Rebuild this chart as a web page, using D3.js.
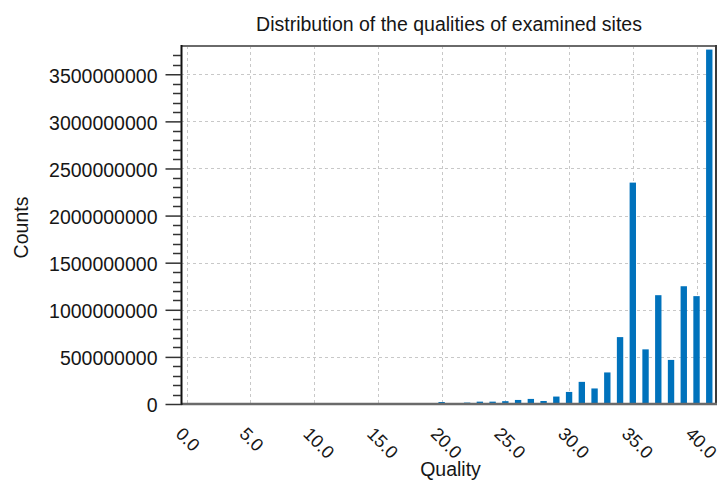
<!DOCTYPE html>
<html><head><meta charset="utf-8">
<script src="https://cdn.jsdelivr.net/npm/d3@7"></script>
<style>body{margin:0;background:#fff}svg{display:block}text{font-family:"Liberation Sans",Arial,sans-serif;fill:#161616}</style>
</head><body><svg id="c" width="720" height="483"></svg>
<script>
const qualities = d3.range(0, 42);
const counts = [0,0,0,0,0,0,0,0,0,0,0,0,0,0,0,0,0,0,0,0,
  21e6,0,15e6,25e6,25e6,30e6,43e6,54e6,32e6,79e6,128e6,
  235e6,165e6,335e6,710e6,2350e6,580e6,1155e6,468e6,1250e6,1145e6,3762e6];
const xTicks = [0,5,10,15,20,25,30,35,40];
const yTicks = [0,5e8,1e9,1.5e9,2e9,2.5e9,3e9,3.5e9];
const title = "Distribution of the qualities of examined sites";
const xLabel = "Quality", yLabel = "Counts";

const FS = 19.5;
const svg = d3.select("#c");
const L=181,R=715,T=46,B=404;
const x = d3.scaleLinear().domain([-0.45,41.45]).range([L,R]);
const y = d3.scaleLinear().domain([0,3.8e9]).range([B,T]);

// grid
const grid = svg.append("g").attr("stroke","#c8c8c8").attr("stroke-dasharray","3,3").attr("stroke-width",1);
grid.selectAll("line.v").data(xTicks).join("line").attr("class","v")
  .attr("x1",d=>Math.round(x(d))+0.5).attr("x2",d=>Math.round(x(d))+0.5).attr("y1",T).attr("y2",B);
grid.selectAll("line.h").data(yTicks.filter(d=>d>0)).join("line").attr("class","h")
  .attr("y1",d=>Math.round(y(d))+0.5).attr("y2",d=>Math.round(y(d))+0.5).attr("x1",L).attr("x2",R);

// bars
const bw = 0.5*(x(1)-x(0));
svg.append("g").selectAll("rect").data(qualities.map((q,i)=>({q,v:counts[i]})).filter(d=>d.v>0)).join("rect")
  .attr("x",d=>x(d.q)-bw/2).attr("width",bw)
  .attr("y",d=>y(d.v)).attr("height",d=>B-y(d.v)).attr("fill","#0072bc");

// frame
svg.append("line").attr("x1",L).attr("x2",R+2).attr("y1",T).attr("y2",T).attr("stroke","#6a6a6a").attr("stroke-width",2);
svg.append("line").attr("x1",R+1).attr("x2",R+1).attr("y1",T-1).attr("y2",B).attr("stroke","#3a3a3a").attr("stroke-width",2);
svg.append("line").attr("x1",L).attr("x2",R+2).attr("y1",B).attr("y2",B).attr("stroke","#6a6a6a").attr("stroke-width",2.5);

// y axis
const yAxis = d3.axisLeft(y).tickValues(yTicks).tickSize(16).tickPadding(8).tickFormat(d3.format("d"));
const ga = svg.append("g").attr("transform",`translate(${L+0.5},0)`).call(yAxis);
ga.select(".domain").attr("stroke","#111").attr("stroke-width",2).attr("d",`M0,${T-1}V${B+1}`);
ga.selectAll(".tick line").attr("stroke","#333").attr("stroke-width",1.5);
ga.selectAll(".tick text").attr("font-size",FS).attr("dy","0.4em").attr("fill","#161616")
  .style("font-family","'Liberation Sans',Arial,sans-serif");
const minor = d3.range(1e8,3.8e9,1e8).filter(d=>Math.round(d/1e8)%5!==0);
svg.append("g").selectAll("line").data(minor).join("line")
  .attr("x1",L-8).attr("x2",L).attr("y1",d=>Math.round(y(d))+0.5).attr("y2",d=>Math.round(y(d))+0.5)
  .attr("stroke","#333").attr("stroke-width",1.5);

// x labels
svg.append("g").selectAll("text").data(xTicks).join("text")
  .attr("transform",d=>`translate(${x(d)-12},${435}) rotate(45)`)
  .attr("font-size",18).text(d=>d3.format(".1f")(d));

svg.append("text").attr("x",449).attr("y",31).attr("text-anchor","middle").attr("font-size",FS).text(title);
svg.append("text").attr("x",450.5).attr("y",476).attr("text-anchor","middle").attr("font-size",FS).text(xLabel);
svg.append("text").attr("transform",`translate(28,227.5) rotate(-90)`).attr("text-anchor","middle").attr("font-size",FS).text(yLabel);
</script></body></html>
